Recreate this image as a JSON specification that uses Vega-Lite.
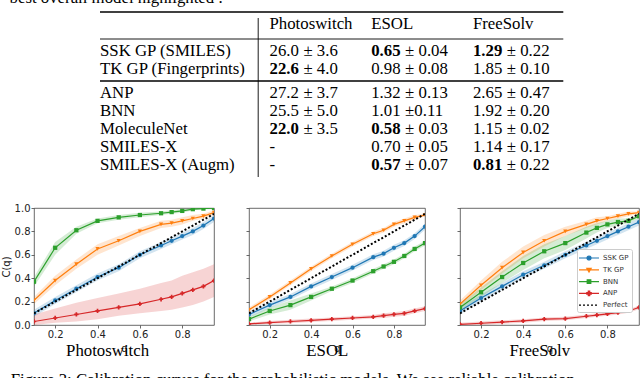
{
"$schema": "https://vega.github.io/schema/vega-lite/v6.json",
"padding": {"top": -10, "left": 0, "right": 0, "bottom": 0},
"background": "white",
"config": {
  "view": {"stroke": "#444", "strokeWidth": 0.8},
  "axis": {"grid": false, "domain": false, "labelOverlap": false, "tickSize": 3, "tickColor": "#444", "tickWidth": 0.8, "labelFont": "DejaVu Sans", "labelFontSize": 10, "labelColor": "#222", "labelPadding": 1, "titleFont": "DejaVu Sans", "titleFontSize": 10, "titleFontWeight": "normal", "titleColor": "#222"},
  "font": "DejaVu Sans"
},
"datasets": {
  "table": [
    {"k":"cap","c":"cap","r":"capline","t":"best overall model highlighted ."},
    {"k":"t","c":"ps","r":"header","t":"Photoswitch"},
    {"k":"t","c":"es","r":"header","t":"ESOL"},
    {"k":"t","c":"fs","r":"header","t":"FreeSolv"},
    {"k":"t","c":"model","r":"ssk","t":"SSK GP (SMILES)"},
    {"k":"t","c":"ps","r":"ssk","t":"26.0"},{"k":"t","c":"ps_e","r":"ssk","t":"± 3.6"},
    {"k":"b","c":"es","r":"ssk","t":"0.65"},{"k":"t","c":"es_e","r":"ssk","t":"± 0.04"},
    {"k":"b","c":"fs","r":"ssk","t":"1.29"},{"k":"t","c":"fs_e","r":"ssk","t":"± 0.22"},
    {"k":"t","c":"model","r":"tk","t":"TK GP (Fingerprints)"},
    {"k":"b","c":"ps","r":"tk","t":"22.6"},{"k":"t","c":"ps_e","r":"tk","t":"± 4.0"},
    {"k":"t","c":"es","r":"tk","t":"0.98"},{"k":"t","c":"es_e","r":"tk","t":"± 0.08"},
    {"k":"t","c":"fs","r":"tk","t":"1.85"},{"k":"t","c":"fs_e","r":"tk","t":"± 0.10"},
    {"k":"t","c":"model","r":"anp","t":"ANP"},
    {"k":"t","c":"ps","r":"anp","t":"27.2"},{"k":"t","c":"ps_e","r":"anp","t":"± 3.7"},
    {"k":"t","c":"es","r":"anp","t":"1.32"},{"k":"t","c":"es_e","r":"anp","t":"± 0.13"},
    {"k":"t","c":"fs","r":"anp","t":"2.65"},{"k":"t","c":"fs_e","r":"anp","t":"± 0.47"},
    {"k":"t","c":"model","r":"bnn","t":"BNN"},
    {"k":"t","c":"ps","r":"bnn","t":"25.5"},{"k":"t","c":"ps_e","r":"bnn","t":"± 5.0"},
    {"k":"t","c":"es","r":"bnn","t":"1.01"},{"k":"t","c":"es_e","r":"bnn","t":"±0.11"},
    {"k":"t","c":"fs","r":"bnn","t":"1.92"},{"k":"t","c":"fs_e","r":"bnn","t":"± 0.20"},
    {"k":"t","c":"model","r":"molnet","t":"MoleculeNet"},
    {"k":"b","c":"ps","r":"molnet","t":"22.0"},{"k":"t","c":"ps_e","r":"molnet","t":"± 3.5"},
    {"k":"b","c":"es","r":"molnet","t":"0.58"},{"k":"t","c":"es_e","r":"molnet","t":"± 0.03"},
    {"k":"t","c":"fs","r":"molnet","t":"1.15"},{"k":"t","c":"fs_e","r":"molnet","t":"± 0.02"},
    {"k":"t","c":"model","r":"smx","t":"SMILES-X"},
    {"k":"t","c":"ps","r":"smx","t":"-"},
    {"k":"t","c":"es","r":"smx","t":"0.70"},{"k":"t","c":"es_e","r":"smx","t":"± 0.05"},
    {"k":"t","c":"fs","r":"smx","t":"1.14"},{"k":"t","c":"fs_e","r":"smx","t":"± 0.17"},
    {"k":"t","c":"model","r":"smxa","t":"SMILES-X (Augm)"},
    {"k":"t","c":"ps","r":"smxa","t":"-"},
    {"k":"b","c":"es","r":"smxa","t":"0.57"},{"k":"t","c":"es_e","r":"smxa","t":"± 0.07"},
    {"k":"b","c":"fs","r":"smxa","t":"0.81"},{"k":"t","c":"fs_e","r":"smxa","t":"± 0.22"},
    {"k":"h1","c":"model","c2":"right","r":"rtop"},
    {"k":"h2","c":"model","c2":"right","r":"rhead"},
    {"k":"h1","c":"model","c2":"right","r":"rmid"},
    {"k":"v","c":"vline","r":"vtop","r2":"vbot"}
  ],
  "calib": [
    {"d":"Photoswitch","m":"SSK GP","q":0.1,"c":0.10,"lo":0.07,"hi":0.13},
    {"d":"Photoswitch","m":"SSK GP","q":0.2,"c":0.21,"lo":0.18,"hi":0.24},
    {"d":"Photoswitch","m":"SSK GP","q":0.3,"c":0.31,"lo":0.28,"hi":0.34},
    {"d":"Photoswitch","m":"SSK GP","q":0.4,"c":0.41,"lo":0.38,"hi":0.44},
    {"d":"Photoswitch","m":"SSK GP","q":0.5,"c":0.49,"lo":0.46,"hi":0.52},
    {"d":"Photoswitch","m":"SSK GP","q":0.6,"c":0.60,"lo":0.57,"hi":0.63},
    {"d":"Photoswitch","m":"SSK GP","q":0.7,"c":0.68,"lo":0.65,"hi":0.71},
    {"d":"Photoswitch","m":"SSK GP","q":0.75,"c":0.72,"lo":0.69,"hi":0.75},
    {"d":"Photoswitch","m":"SSK GP","q":0.8,"c":0.76,"lo":0.73,"hi":0.79},
    {"d":"Photoswitch","m":"SSK GP","q":0.85,"c":0.80,"lo":0.77,"hi":0.83},
    {"d":"Photoswitch","m":"SSK GP","q":0.9,"c":0.85,"lo":0.82,"hi":0.88},
    {"d":"Photoswitch","m":"SSK GP","q":0.95,"c":0.91,"lo":0.88,"hi":0.94},
    {"d":"Photoswitch","m":"TK GP","q":0.1,"c":0.21,"lo":0.18,"hi":0.24},
    {"d":"Photoswitch","m":"TK GP","q":0.2,"c":0.38,"lo":0.34,"hi":0.42},
    {"d":"Photoswitch","m":"TK GP","q":0.3,"c":0.52,"lo":0.48,"hi":0.56},
    {"d":"Photoswitch","m":"TK GP","q":0.4,"c":0.65,"lo":0.60,"hi":0.69},
    {"d":"Photoswitch","m":"TK GP","q":0.5,"c":0.72,"lo":0.68,"hi":0.76},
    {"d":"Photoswitch","m":"TK GP","q":0.6,"c":0.80,"lo":0.76,"hi":0.83},
    {"d":"Photoswitch","m":"TK GP","q":0.7,"c":0.86,"lo":0.83,"hi":0.89},
    {"d":"Photoswitch","m":"TK GP","q":0.75,"c":0.87,"lo":0.84,"hi":0.90},
    {"d":"Photoswitch","m":"TK GP","q":0.8,"c":0.89,"lo":0.86,"hi":0.92},
    {"d":"Photoswitch","m":"TK GP","q":0.85,"c":0.91,"lo":0.89,"hi":0.94},
    {"d":"Photoswitch","m":"TK GP","q":0.9,"c":0.93,"lo":0.91,"hi":0.95},
    {"d":"Photoswitch","m":"TK GP","q":0.95,"c":0.96,"lo":0.94,"hi":0.98},
    {"d":"Photoswitch","m":"BNN","q":0.1,"c":0.37,"lo":0.33,"hi":0.41},
    {"d":"Photoswitch","m":"BNN","q":0.2,"c":0.66,"lo":0.60,"hi":0.71},
    {"d":"Photoswitch","m":"BNN","q":0.3,"c":0.81,"lo":0.78,"hi":0.84},
    {"d":"Photoswitch","m":"BNN","q":0.4,"c":0.89,"lo":0.87,"hi":0.91},
    {"d":"Photoswitch","m":"BNN","q":0.5,"c":0.92,"lo":0.90,"hi":0.94},
    {"d":"Photoswitch","m":"BNN","q":0.6,"c":0.94,"lo":0.92,"hi":0.96},
    {"d":"Photoswitch","m":"BNN","q":0.7,"c":0.955,"lo":0.94,"hi":0.97},
    {"d":"Photoswitch","m":"BNN","q":0.75,"c":0.965,"lo":0.95,"hi":0.98},
    {"d":"Photoswitch","m":"BNN","q":0.8,"c":0.975,"lo":0.96,"hi":0.99},
    {"d":"Photoswitch","m":"BNN","q":0.85,"c":0.99,"lo":0.98,"hi":1.0},
    {"d":"Photoswitch","m":"BNN","q":0.9,"c":0.995,"lo":0.99,"hi":1.0},
    {"d":"Photoswitch","m":"BNN","q":0.95,"c":1.0,"lo":0.99,"hi":1.0},
    {"d":"Photoswitch","m":"ANP","q":0.1,"c":0.03,"lo":0.0,"hi":0.09},
    {"d":"Photoswitch","m":"ANP","q":0.2,"c":0.06,"lo":0.02,"hi":0.14},
    {"d":"Photoswitch","m":"ANP","q":0.3,"c":0.09,"lo":0.03,"hi":0.19},
    {"d":"Photoswitch","m":"ANP","q":0.4,"c":0.12,"lo":0.05,"hi":0.23},
    {"d":"Photoswitch","m":"ANP","q":0.5,"c":0.15,"lo":0.08,"hi":0.27},
    {"d":"Photoswitch","m":"ANP","q":0.6,"c":0.18,"lo":0.10,"hi":0.31},
    {"d":"Photoswitch","m":"ANP","q":0.7,"c":0.22,"lo":0.12,"hi":0.36},
    {"d":"Photoswitch","m":"ANP","q":0.75,"c":0.24,"lo":0.13,"hi":0.38},
    {"d":"Photoswitch","m":"ANP","q":0.8,"c":0.27,"lo":0.15,"hi":0.42},
    {"d":"Photoswitch","m":"ANP","q":0.85,"c":0.30,"lo":0.17,"hi":0.45},
    {"d":"Photoswitch","m":"ANP","q":0.9,"c":0.33,"lo":0.20,"hi":0.48},
    {"d":"Photoswitch","m":"ANP","q":0.95,"c":0.38,"lo":0.24,"hi":0.52},
    {"d":"Photoswitch","m":"Perfect","q":0.1,"c":0.1},
    {"d":"Photoswitch","m":"Perfect","q":0.95,"c":0.95},
    {"d":"ESOL","m":"SSK GP","q":0.1,"c":0.09,"lo":0.065,"hi":0.115},
    {"d":"ESOL","m":"SSK GP","q":0.2,"c":0.17,"lo":0.145,"hi":0.195},
    {"d":"ESOL","m":"SSK GP","q":0.3,"c":0.24,"lo":0.215,"hi":0.265},
    {"d":"ESOL","m":"SSK GP","q":0.4,"c":0.33,"lo":0.305,"hi":0.355},
    {"d":"ESOL","m":"SSK GP","q":0.5,"c":0.41,"lo":0.385,"hi":0.435},
    {"d":"ESOL","m":"SSK GP","q":0.6,"c":0.49,"lo":0.465,"hi":0.515},
    {"d":"ESOL","m":"SSK GP","q":0.7,"c":0.58,"lo":0.555,"hi":0.605},
    {"d":"ESOL","m":"SSK GP","q":0.75,"c":0.61,"lo":0.585,"hi":0.635},
    {"d":"ESOL","m":"SSK GP","q":0.8,"c":0.66,"lo":0.635,"hi":0.685},
    {"d":"ESOL","m":"SSK GP","q":0.85,"c":0.70,"lo":0.675,"hi":0.725},
    {"d":"ESOL","m":"SSK GP","q":0.9,"c":0.76,"lo":0.735,"hi":0.785},
    {"d":"ESOL","m":"SSK GP","q":0.95,"c":0.84,"lo":0.815,"hi":0.865},
    {"d":"ESOL","m":"TK GP","q":0.1,"c":0.13,"lo":0.11,"hi":0.15},
    {"d":"ESOL","m":"TK GP","q":0.2,"c":0.24,"lo":0.22,"hi":0.26},
    {"d":"ESOL","m":"TK GP","q":0.3,"c":0.36,"lo":0.34,"hi":0.38},
    {"d":"ESOL","m":"TK GP","q":0.4,"c":0.48,"lo":0.46,"hi":0.50},
    {"d":"ESOL","m":"TK GP","q":0.5,"c":0.59,"lo":0.57,"hi":0.61},
    {"d":"ESOL","m":"TK GP","q":0.6,"c":0.69,"lo":0.67,"hi":0.71},
    {"d":"ESOL","m":"TK GP","q":0.7,"c":0.78,"lo":0.76,"hi":0.80},
    {"d":"ESOL","m":"TK GP","q":0.75,"c":0.81,"lo":0.79,"hi":0.83},
    {"d":"ESOL","m":"TK GP","q":0.8,"c":0.86,"lo":0.84,"hi":0.88},
    {"d":"ESOL","m":"TK GP","q":0.85,"c":0.89,"lo":0.87,"hi":0.91},
    {"d":"ESOL","m":"TK GP","q":0.9,"c":0.92,"lo":0.90,"hi":0.94},
    {"d":"ESOL","m":"TK GP","q":0.95,"c":0.94,"lo":0.93,"hi":0.95},
    {"d":"ESOL","m":"BNN","q":0.1,"c":0.05,"lo":0.03,"hi":0.07},
    {"d":"ESOL","m":"BNN","q":0.2,"c":0.12,"lo":0.09,"hi":0.15},
    {"d":"ESOL","m":"BNN","q":0.3,"c":0.17,"lo":0.13,"hi":0.21},
    {"d":"ESOL","m":"BNN","q":0.4,"c":0.24,"lo":0.21,"hi":0.27},
    {"d":"ESOL","m":"BNN","q":0.5,"c":0.31,"lo":0.29,"hi":0.33},
    {"d":"ESOL","m":"BNN","q":0.6,"c":0.38,"lo":0.36,"hi":0.40},
    {"d":"ESOL","m":"BNN","q":0.7,"c":0.46,"lo":0.44,"hi":0.48},
    {"d":"ESOL","m":"BNN","q":0.75,"c":0.50,"lo":0.48,"hi":0.52},
    {"d":"ESOL","m":"BNN","q":0.8,"c":0.54,"lo":0.52,"hi":0.56},
    {"d":"ESOL","m":"BNN","q":0.85,"c":0.59,"lo":0.57,"hi":0.61},
    {"d":"ESOL","m":"BNN","q":0.9,"c":0.65,"lo":0.63,"hi":0.67},
    {"d":"ESOL","m":"BNN","q":0.95,"c":0.70,"lo":0.68,"hi":0.72},
    {"d":"ESOL","m":"ANP","q":0.1,"c":0.01,"lo":0.0,"hi":0.02},
    {"d":"ESOL","m":"ANP","q":0.2,"c":0.02,"lo":0.01,"hi":0.035},
    {"d":"ESOL","m":"ANP","q":0.3,"c":0.03,"lo":0.015,"hi":0.045},
    {"d":"ESOL","m":"ANP","q":0.4,"c":0.04,"lo":0.025,"hi":0.055},
    {"d":"ESOL","m":"ANP","q":0.5,"c":0.05,"lo":0.035,"hi":0.065},
    {"d":"ESOL","m":"ANP","q":0.6,"c":0.06,"lo":0.045,"hi":0.075},
    {"d":"ESOL","m":"ANP","q":0.7,"c":0.07,"lo":0.055,"hi":0.085},
    {"d":"ESOL","m":"ANP","q":0.75,"c":0.08,"lo":0.06,"hi":0.10},
    {"d":"ESOL","m":"ANP","q":0.8,"c":0.09,"lo":0.07,"hi":0.11},
    {"d":"ESOL","m":"ANP","q":0.85,"c":0.10,"lo":0.08,"hi":0.12},
    {"d":"ESOL","m":"ANP","q":0.9,"c":0.12,"lo":0.10,"hi":0.14},
    {"d":"ESOL","m":"ANP","q":0.95,"c":0.14,"lo":0.12,"hi":0.16},
    {"d":"ESOL","m":"Perfect","q":0.1,"c":0.1},
    {"d":"ESOL","m":"Perfect","q":0.95,"c":0.95},
    {"d":"FreeSolv","m":"SSK GP","q":0.1,"c":0.12,"lo":0.09,"hi":0.15},
    {"d":"FreeSolv","m":"SSK GP","q":0.2,"c":0.23,"lo":0.20,"hi":0.26},
    {"d":"FreeSolv","m":"SSK GP","q":0.3,"c":0.33,"lo":0.30,"hi":0.36},
    {"d":"FreeSolv","m":"SSK GP","q":0.4,"c":0.43,"lo":0.40,"hi":0.46},
    {"d":"FreeSolv","m":"SSK GP","q":0.5,"c":0.51,"lo":0.48,"hi":0.54},
    {"d":"FreeSolv","m":"SSK GP","q":0.6,"c":0.60,"lo":0.57,"hi":0.63},
    {"d":"FreeSolv","m":"SSK GP","q":0.7,"c":0.68,"lo":0.65,"hi":0.71},
    {"d":"FreeSolv","m":"SSK GP","q":0.75,"c":0.72,"lo":0.69,"hi":0.75},
    {"d":"FreeSolv","m":"SSK GP","q":0.8,"c":0.76,"lo":0.73,"hi":0.79},
    {"d":"FreeSolv","m":"SSK GP","q":0.85,"c":0.80,"lo":0.77,"hi":0.83},
    {"d":"FreeSolv","m":"SSK GP","q":0.9,"c":0.84,"lo":0.81,"hi":0.87},
    {"d":"FreeSolv","m":"SSK GP","q":0.95,"c":0.88,"lo":0.85,"hi":0.91},
    {"d":"FreeSolv","m":"TK GP","q":0.1,"c":0.18,"lo":0.15,"hi":0.21},
    {"d":"FreeSolv","m":"TK GP","q":0.2,"c":0.34,"lo":0.30,"hi":0.38},
    {"d":"FreeSolv","m":"TK GP","q":0.3,"c":0.49,"lo":0.44,"hi":0.54},
    {"d":"FreeSolv","m":"TK GP","q":0.4,"c":0.62,"lo":0.57,"hi":0.67},
    {"d":"FreeSolv","m":"TK GP","q":0.5,"c":0.72,"lo":0.67,"hi":0.77},
    {"d":"FreeSolv","m":"TK GP","q":0.6,"c":0.80,"lo":0.76,"hi":0.84},
    {"d":"FreeSolv","m":"TK GP","q":0.7,"c":0.86,"lo":0.83,"hi":0.89},
    {"d":"FreeSolv","m":"TK GP","q":0.75,"c":0.89,"lo":0.86,"hi":0.92},
    {"d":"FreeSolv","m":"TK GP","q":0.8,"c":0.91,"lo":0.89,"hi":0.93},
    {"d":"FreeSolv","m":"TK GP","q":0.85,"c":0.93,"lo":0.91,"hi":0.95},
    {"d":"FreeSolv","m":"TK GP","q":0.9,"c":0.95,"lo":0.93,"hi":0.97},
    {"d":"FreeSolv","m":"TK GP","q":0.95,"c":0.96,"lo":0.95,"hi":0.97},
    {"d":"FreeSolv","m":"BNN","q":0.1,"c":0.15,"lo":0.12,"hi":0.18},
    {"d":"FreeSolv","m":"BNN","q":0.2,"c":0.28,"lo":0.24,"hi":0.32},
    {"d":"FreeSolv","m":"BNN","q":0.3,"c":0.41,"lo":0.36,"hi":0.46},
    {"d":"FreeSolv","m":"BNN","q":0.4,"c":0.53,"lo":0.47,"hi":0.59},
    {"d":"FreeSolv","m":"BNN","q":0.5,"c":0.63,"lo":0.57,"hi":0.69},
    {"d":"FreeSolv","m":"BNN","q":0.6,"c":0.70,"lo":0.64,"hi":0.76},
    {"d":"FreeSolv","m":"BNN","q":0.7,"c":0.79,"lo":0.74,"hi":0.84},
    {"d":"FreeSolv","m":"BNN","q":0.75,"c":0.83,"lo":0.79,"hi":0.87},
    {"d":"FreeSolv","m":"BNN","q":0.8,"c":0.86,"lo":0.83,"hi":0.89},
    {"d":"FreeSolv","m":"BNN","q":0.85,"c":0.88,"lo":0.85,"hi":0.91},
    {"d":"FreeSolv","m":"BNN","q":0.9,"c":0.89,"lo":0.87,"hi":0.91},
    {"d":"FreeSolv","m":"BNN","q":0.95,"c":0.93,"lo":0.91,"hi":0.95},
    {"d":"FreeSolv","m":"ANP","q":0.1,"c":0.005,"lo":0.0,"hi":0.02},
    {"d":"FreeSolv","m":"ANP","q":0.2,"c":0.015,"lo":0.0,"hi":0.03},
    {"d":"FreeSolv","m":"ANP","q":0.3,"c":0.025,"lo":0.01,"hi":0.04},
    {"d":"FreeSolv","m":"ANP","q":0.4,"c":0.035,"lo":0.02,"hi":0.05},
    {"d":"FreeSolv","m":"ANP","q":0.5,"c":0.05,"lo":0.035,"hi":0.065},
    {"d":"FreeSolv","m":"ANP","q":0.6,"c":0.055,"lo":0.04,"hi":0.07},
    {"d":"FreeSolv","m":"ANP","q":0.7,"c":0.075,"lo":0.06,"hi":0.09},
    {"d":"FreeSolv","m":"ANP","q":0.75,"c":0.085,"lo":0.07,"hi":0.10},
    {"d":"FreeSolv","m":"ANP","q":0.8,"c":0.095,"lo":0.08,"hi":0.11},
    {"d":"FreeSolv","m":"ANP","q":0.85,"c":0.105,"lo":0.09,"hi":0.12},
    {"d":"FreeSolv","m":"ANP","q":0.9,"c":0.12,"lo":0.105,"hi":0.135},
    {"d":"FreeSolv","m":"ANP","q":0.95,"c":0.15,"lo":0.135,"hi":0.165},
    {"d":"FreeSolv","m":"Perfect","q":0.1,"c":0.1},
    {"d":"FreeSolv","m":"Perfect","q":0.95,"c":0.95}
  ]
},
"title": {"text": "Figure 3: Calibration curves for the probabilistic models. We see reliable calibration", "orient": "bottom", "anchor": "start", "frame": "bounds", "font": "Liberation Serif", "fontSize": 16.8, "fontWeight": "normal", "color": "#000", "offset": 12, "dx": 10},
"spacing": 12,
"vconcat": [
  {
    "width": 600, "height": 190,
    "view": {"stroke": null},
    "data": {"name": "table"},
    "encoding": {
      "x": {"field": "c", "type": "nominal", "axis": null, "scale": {"type": "point", "padding": 0, "range": [-24.4, 529.3], "domain": ["cap","x1","x2","x3","x4","x5","x6","x7","model","x9","x10","x11","x12","x13","x14","x15","x16","x17","x18","x19","x20","x21","vline","ps","x24","x25","ps_e","x27","x28","x29","x30","x31","es","x33","x34","es_e","x36","x37","x38","x39","x40","fs","x42","x43","fs_e","x45","x46","x47","x48","right"]}},
      "y": {"field": "r", "type": "nominal", "axis": null, "scale": {"type": "point", "padding": 0, "range": [-3, 177], "domain": ["y0","y1","capline","y3","y4","rtop","y6","vtop","y8","header","y10","y11","y12","y13","rhead","y15","y16","y17","ssk","y19","y20","y21","y22","y23","tk","y25","y26","y27","rmid","y29","y30","y31","anp","y33","y34","y35","y36","y37","bnn","y39","y40","y41","y42","y43","molnet","y45","y46","y47","y48","y49","smx","y51","y52","y53","y54","y55","smxa","y57","y58","y59","vbot"]}}
    },
    "layer": [
      {"transform": [{"filter": "datum.k === 'cap'"}], "mark": {"type": "text", "align": "left", "baseline": "alphabetic", "font": "Liberation Serif", "fontSize": 16.8, "color": "#000"}, "encoding": {"text": {"field": "t"}}},
      {"transform": [{"filter": "datum.k === 't'"}], "mark": {"type": "text", "align": "left", "baseline": "middle", "font": "Liberation Serif", "fontSize": 16.8, "color": "#000"}, "encoding": {"text": {"field": "t"}}},
      {"transform": [{"filter": "datum.k === 'b'"}], "mark": {"type": "text", "align": "left", "baseline": "middle", "font": "Liberation Serif", "fontSize": 16.8, "fontWeight": "bold", "color": "#000"}, "encoding": {"text": {"field": "t"}}},
      {"transform": [{"filter": "datum.k === 'h1'"}], "mark": {"type": "rule", "color": "#000", "strokeWidth": 1.5}, "encoding": {"x2": {"field": "c2"}}},
      {"transform": [{"filter": "datum.k === 'h2'"}], "mark": {"type": "rule", "color": "#000", "strokeWidth": 0.9}, "encoding": {"x2": {"field": "c2"}}},
      {"transform": [{"filter": "datum.k === 'v'"}], "mark": {"type": "rule", "color": "#000", "strokeWidth": 0.9}, "encoding": {"y2": {"field": "r2"}}}
    ]
  },
  {
    "spacing": 30,
    "resolve": {"scale": {"color": "independent", "shape": "independent", "x": "independent", "y": "independent"}, "legend": {"color": "independent", "shape": "independent"}},
    "hconcat": [
      {
        "width": 180, "height": 117,
        "data": {"name": "calib"},
        "transform": [{"filter": "datum.d === 'Photoswitch'"}],
        "title": {"text": "Photoswitch", "orient": "bottom", "anchor": "middle", "frame": "bounds", "font": "Liberation Serif", "fontSize": 16.8, "fontWeight": "normal", "color": "#000", "dy": -14},
        "encoding": {
          "x": {"field": "q", "type": "quantitative", "scale": {"domain": [0.1, 0.95], "nice": false, "zero": false}, "axis": {"values": [0.2, 0.4, 0.6, 0.8], "format": ".1f", "title": "q", "titlePadding": 4, "labelOverlap": false}},
          "y": {"field": "c", "type": "quantitative", "stack": null, "scale": {"domain": [0, 1], "nice": false}, "axis": {"values": [0, 0.2, 0.4, 0.6, 0.8, 1], "format": ".1f", "title": "C(q)", "titlePadding": 3, "labelOverlap": false, "labelBound": false}},
          "color": {"field": "m", "type": "nominal", "scale": {"domain": ["SSK GP", "TK GP", "BNN", "ANP", "Perfect"], "range": ["#1f77b4", "#ff7f0e", "#2ca02c", "#d62728", "#000000"]}, "legend": null}
        },
        "layer": [
          {"transform": [{"filter": "datum.m !== 'Perfect'"}], "mark": {"type": "area", "opacity": 0.2, "clip": true}, "encoding": {"y": {"field": "lo", "type": "quantitative", "stack": null}, "y2": {"field": "hi"}}},
          {"transform": [{"filter": "datum.m !== 'Perfect'"}], "mark": {"type": "line", "strokeWidth": 1.2, "clip": true}},
          {"transform": [{"filter": "datum.m !== 'Perfect'"}], "mark": {"type": "point", "filled": true, "opacity": 1, "size": 18, "clip": true}, "encoding": {"shape": {"field": "m", "type": "nominal", "scale": {"domain": ["SSK GP", "TK GP", "BNN", "ANP"], "range": ["circle", "triangle-down", "square", "cross"]}, "legend": null}}},
          {"transform": [{"filter": "datum.m === 'Perfect'"}], "mark": {"type": "line", "strokeWidth": 2, "strokeDash": [2, 2], "clip": true}}
        ]
      },
      {
        "width": 176, "height": 117,
        "data": {"name": "calib"},
        "transform": [{"filter": "datum.d === 'ESOL'"}],
        "title": {"text": "ESOL", "orient": "bottom", "anchor": "middle", "frame": "bounds", "font": "Liberation Serif", "fontSize": 16.8, "fontWeight": "normal", "color": "#000", "dy": -14, "dx": -8},
        "encoding": {
          "x": {"field": "q", "type": "quantitative", "scale": {"domain": [0.1, 0.95], "nice": false, "zero": false}, "axis": {"values": [0.2, 0.4, 0.6, 0.8], "format": ".1f", "title": "q", "titlePadding": 4, "labelOverlap": false}},
          "y": {"field": "c", "type": "quantitative", "stack": null, "scale": {"domain": [0, 1], "nice": false}, "axis": {"values": [0, 0.2, 0.4, 0.6, 0.8, 1], "labels": false, "title": null}},
          "color": {"field": "m", "type": "nominal", "scale": {"domain": ["SSK GP", "TK GP", "BNN", "ANP", "Perfect"], "range": ["#1f77b4", "#ff7f0e", "#2ca02c", "#d62728", "#000000"]}, "legend": null}
        },
        "layer": [
          {"transform": [{"filter": "datum.m !== 'Perfect'"}], "mark": {"type": "area", "opacity": 0.2, "clip": true}, "encoding": {"y": {"field": "lo", "type": "quantitative", "stack": null}, "y2": {"field": "hi"}}},
          {"transform": [{"filter": "datum.m !== 'Perfect'"}], "mark": {"type": "line", "strokeWidth": 1.2, "clip": true}},
          {"transform": [{"filter": "datum.m !== 'Perfect'"}], "mark": {"type": "point", "filled": true, "opacity": 1, "size": 18, "clip": true}, "encoding": {"shape": {"field": "m", "type": "nominal", "scale": {"domain": ["SSK GP", "TK GP", "BNN", "ANP"], "range": ["circle", "triangle-down", "square", "cross"]}, "legend": null}}},
          {"transform": [{"filter": "datum.m === 'Perfect'"}], "mark": {"type": "line", "strokeWidth": 2, "strokeDash": [2, 2], "clip": true}}
        ]
      },
      {
        "width": 179, "height": 117,
        "data": {"name": "calib"},
        "transform": [{"filter": "datum.d === 'FreeSolv'"}],
        "title": {"text": "FreeSolv", "orient": "bottom", "anchor": "middle", "frame": "bounds", "font": "Liberation Serif", "fontSize": 16.8, "fontWeight": "normal", "color": "#000", "dy": -14, "dx": -8},
        "encoding": {
          "x": {"field": "q", "type": "quantitative", "scale": {"domain": [0.1, 0.95], "nice": false, "zero": false}, "axis": {"values": [0.2, 0.4, 0.6, 0.8], "format": ".1f", "title": "q", "titlePadding": 4, "labelOverlap": false}},
          "y": {"field": "c", "type": "quantitative", "stack": null, "scale": {"domain": [0, 1], "nice": false}, "axis": {"values": [0, 0.2, 0.4, 0.6, 0.8, 1], "labels": false, "title": null}},
          "color": {"field": "m", "type": "nominal", "scale": {"domain": ["SSK GP", "TK GP", "BNN", "ANP", "Perfect"], "range": ["#1f77b4", "#ff7f0e", "#2ca02c", "#d62728", "#000000"]},
            "legend": {"orient": "none", "legendX": 117, "legendY": 41, "title": null, "padding": 3, "rowPadding": 0.8, "labelFont": "DejaVu Sans", "labelFontSize": 7, "labelColor": "#333", "labelOffset": 8, "symbolOffset": 3, "symbolSize": 100, "symbolStrokeWidth": 1.2, "strokeColor": "#cccccc", "fillColor": "#ffffff", "cornerRadius": 2,
              "encode": {"symbols": {"update": {
                "shape": {"signal": "datum.value === 'SSK GP' ? 'M-2,0H2M-0.4,0A0.4,0.4,0,1,0,0.4,0A0.4,0.4,0,1,0,-0.4,0Z' : datum.value === 'TK GP' ? 'M-2,0H2M-0.44,-0.3L0.44,-0.3L0,0.44Z' : datum.value === 'BNN' ? 'M-2,0H2M-0.36,-0.36H0.36V0.36H-0.36Z' : datum.value === 'ANP' ? 'M-2,0H2M-0.14,-0.44H0.14V-0.14H0.44V0.14H0.14V0.44H-0.14V0.14H-0.44V-0.14H-0.14Z' : 'M-2,0H2'"},
                "fill": {"signal": "datum.value === 'SSK GP' ? '#1f77b4' : datum.value === 'TK GP' ? '#ff7f0e' : datum.value === 'BNN' ? '#2ca02c' : datum.value === 'ANP' ? '#d62728' : 'transparent'"},
                "stroke": {"signal": "datum.value === 'SSK GP' ? '#1f77b4' : datum.value === 'TK GP' ? '#ff7f0e' : datum.value === 'BNN' ? '#2ca02c' : datum.value === 'ANP' ? '#d62728' : '#000000'"},
                "strokeDash": {"signal": "datum.value === 'Perfect' ? [2, 2] : [1, 0]"},
                "opacity": {"value": 1}, "fillOpacity": {"value": 1}, "strokeOpacity": {"value": 1}
              }}}}
          }
        },
        "layer": [
          {"transform": [{"filter": "datum.m !== 'Perfect'"}], "mark": {"type": "area", "opacity": 0.2, "clip": true}, "encoding": {"y": {"field": "lo", "type": "quantitative", "stack": null}, "y2": {"field": "hi"}}},
          {"transform": [{"filter": "datum.m !== 'Perfect'"}], "mark": {"type": "line", "strokeWidth": 1.2, "clip": true}},
          {"transform": [{"filter": "datum.m !== 'Perfect'"}], "mark": {"type": "point", "filled": true, "opacity": 1, "size": 18, "clip": true}, "encoding": {"shape": {"field": "m", "type": "nominal", "scale": {"domain": ["SSK GP", "TK GP", "BNN", "ANP"], "range": ["circle", "triangle-down", "square", "cross"]}, "legend": null}}},
          {"transform": [{"filter": "datum.m === 'Perfect'"}], "mark": {"type": "line", "strokeWidth": 2, "strokeDash": [2, 2], "clip": true}}
        ]
      }
    ]
  }
]
}
